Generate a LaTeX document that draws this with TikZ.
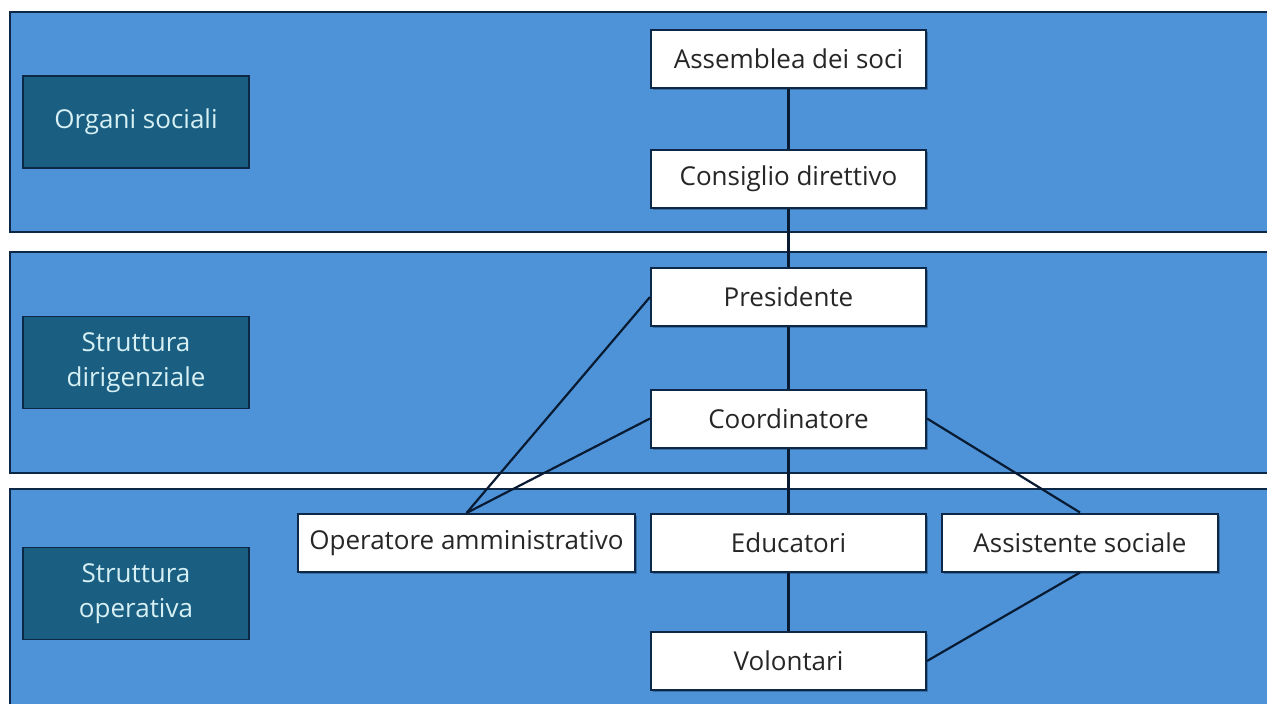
\documentclass[tikz,border=0pt]{standalone}
\usepackage{fontspec}
\setmainfont{Open Sans}
\usetikzlibrary{shadows}
\definecolor{bandblue}{HTML}{4E93D8}
\definecolor{labelteal}{HTML}{1A5E82}
\definecolor{labeltext}{HTML}{D6F0F4}
\definecolor{edgenavy}{HTML}{0D2747}
\begin{document}
\begin{tikzpicture}[x=1pt,y=-1pt,
		band/.style={draw=edgenavy,line width=2pt,fill=bandblue},
		role/.style={draw=edgenavy,line width=2pt,fill=white,minimum height=58pt,minimum width=275pt,inner sep=0pt,font=\fontsize{26}{30}\selectfont,text=black!85,drop shadow={shadow xshift=2pt,shadow yshift=-2pt,opacity=0.35,fill=edgenavy}},
		level/.style={draw=edgenavy,line width=1.5pt,fill=labelteal,minimum height=92pt,minimum width=226pt,inner sep=0pt,align=center,font=\fontsize{26}{35}\selectfont,text=labeltext},
		link/.style={draw=edgenavy!70!black,line width=2.2pt}]
			\useasboundingbox (0,0) rectangle (1267,704);
			\fill[white] (0,0) rectangle (1267,704);
			\begin{scope}
				\clip (0,0) rectangle (1267,704);
				\draw[band] (10,12) rectangle (1290,232);
				\draw[band] (10,252) rectangle (1290,473);
				\draw[band] (10,489) rectangle (1290,720);
			\end{scope}
			% left labels
			\node[level] (organi) at (136,122) {Organi sociali};
			\node[level] (dirig) at (136,362.5) {Struttura\\dirigenziale};
			\node[level] (operat) at (136,593.5) {Struttura\\operativa};
			% roles
			\node[role] (assemblea) at (788.5,59) {Assemblea dei soci};
			\node[role] (consiglio) at (788.5,179) {Consiglio direttivo};
			\node[role] (presidente) at (788.5,297) {Presidente};
			\node[role] (coordinatore) at (788.5,418.5) {Coordinatore};
			\node[role,minimum width=337pt] (operatore) at (466.5,543) {Operatore amministrativo};
			\node[role] (educatori) at (788.5,543) {Educatori};
			\node[role,minimum width=276pt] (assistente) at (1080,542.5) {Assistente sociale};
			\node[role] (volontari) at (788.5,661) {Volontari};
			% connectors
			\draw[link] (assemblea) -- (consiglio);
			\draw[link] (consiglio) -- (presidente);
			\draw[link] (presidente) -- (coordinatore);
			\draw[link] (coordinatore) -- (educatori);
			\draw[link] (educatori) -- (volontari);
			\draw[link] (presidente.west) -- (operatore.north);
			\draw[link] (coordinatore.west) -- (operatore.north);
			\draw[link] (coordinatore.east) -- (assistente.north);
			\draw[link] (assistente.south) -- (volontari.east);
		\end{tikzpicture}
\end{document}
